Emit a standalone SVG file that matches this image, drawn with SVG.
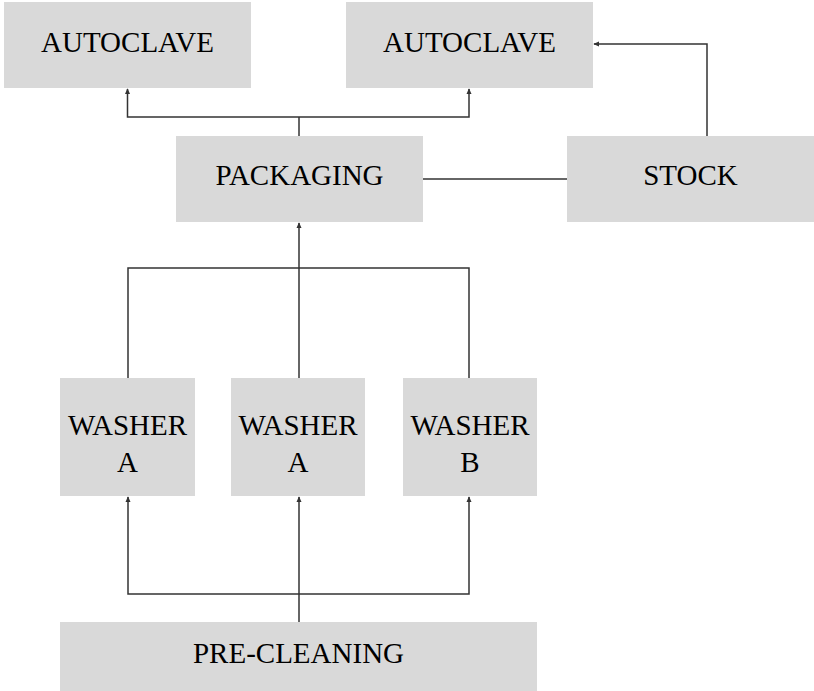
<svg xmlns="http://www.w3.org/2000/svg" width="814" height="691" viewBox="0 0 814 691">
  <style>
    .box { fill: #d9d9d9; }
    .lbl { font-family: "Liberation Serif", "Times New Roman", serif; font-size: 29px; fill: #000; text-anchor: middle; }
    .wire { fill: none; stroke: #333; stroke-width: 1.5; }
  </style>
  <defs>
    <marker id="arrow" viewBox="0 0 8 8" refX="7" refY="4" markerWidth="6" markerHeight="6" markerUnits="userSpaceOnUse" orient="auto">
      <path d="M0,0.5 L8,4 L0,7.5 Z" fill="#333"/>
    </marker>
  </defs>
  <rect width="814" height="691" fill="#fff"/>

  <g id="autoclave-1">
    <rect class="box" x="4" y="2" width="247" height="86"/>
    <text class="lbl" x="127.5" y="52">AUTOCLAVE</text>
  </g>
  <g id="autoclave-2">
    <rect class="box" x="346" y="2" width="247" height="86"/>
    <text class="lbl" x="469.5" y="52">AUTOCLAVE</text>
  </g>
  <g id="packaging">
    <rect class="box" x="176" y="136" width="247" height="86"/>
    <text class="lbl" x="299.5" y="185">PACKAGING</text>
  </g>
  <g id="stock">
    <rect class="box" x="567" y="136" width="247" height="86"/>
    <text class="lbl" x="690.5" y="185">STOCK</text>
  </g>
  <g id="washer-a-1">
    <rect class="box" x="60" y="378" width="135" height="118"/>
    <text class="lbl" x="127.5" y="435">WASHER</text>
    <text class="lbl" x="127.5" y="472">A</text>
  </g>
  <g id="washer-a-2">
    <rect class="box" x="231" y="378" width="134" height="118"/>
    <text class="lbl" x="298" y="435">WASHER</text>
    <text class="lbl" x="298" y="472">A</text>
  </g>
  <g id="washer-b">
    <rect class="box" x="403" y="378" width="134" height="118"/>
    <text class="lbl" x="470" y="435">WASHER</text>
    <text class="lbl" x="470" y="472">B</text>
  </g>
  <g id="pre-cleaning">
    <rect class="box" x="60" y="622" width="477" height="69"/>
    <text class="lbl" x="298.5" y="663">PRE-CLEANING</text>
  </g>

  <g id="connectors">
    <!-- packaging to both autoclaves -->
    <path class="wire" d="M299,136 V117"/>
    <path class="wire" d="M299,117 H127.5 V89" marker-end="url(#arrow)"/>
    <path class="wire" d="M299,117 H469 V89" marker-end="url(#arrow)"/>
    <!-- stock -->
    <path class="wire" d="M423,179 H567"/>
    <path class="wire" d="M707,136 V44 H594" marker-end="url(#arrow)"/>
    <!-- washers to packaging -->
    <path class="wire" d="M128,378 V268 H469 V378"/>
    <path class="wire" d="M299,378 V223" marker-end="url(#arrow)"/>
    <!-- pre-cleaning to washers -->
    <path class="wire" d="M299,622 V497" marker-end="url(#arrow)"/>
    <path class="wire" d="M299,594 H128 V497" marker-end="url(#arrow)"/>
    <path class="wire" d="M299,594 H469 V497" marker-end="url(#arrow)"/>
  </g>
</svg>
